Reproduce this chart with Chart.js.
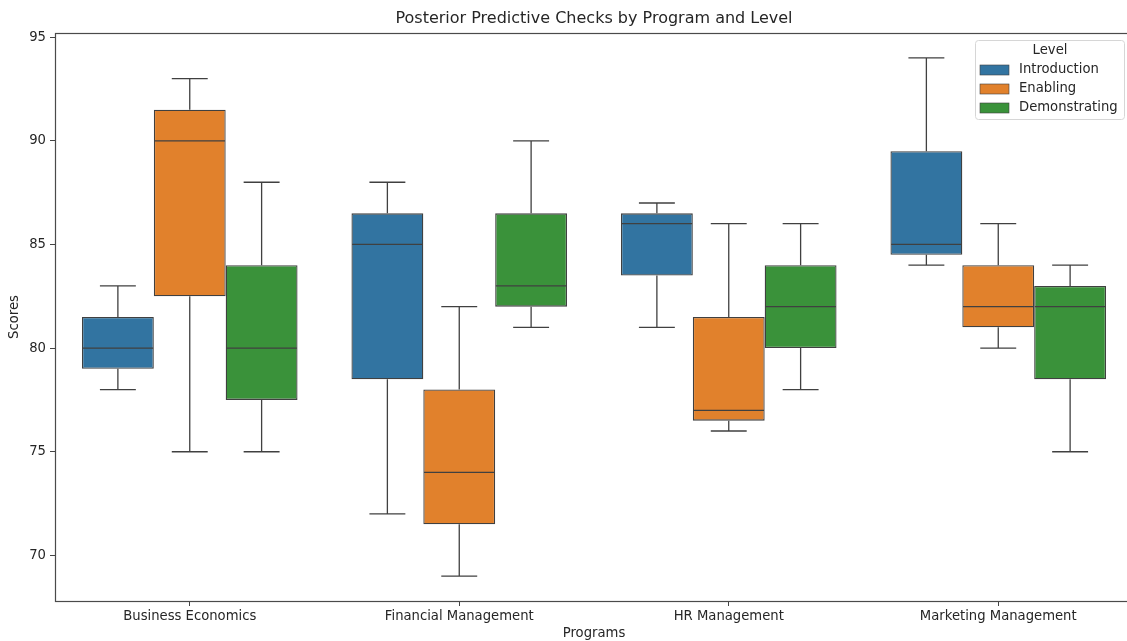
<!DOCTYPE html>
<html>
<head>
<meta charset="utf-8">
<script src="https://cdn.jsdelivr.net/npm/chart.js@4.4.1/dist/chart.umd.min.js"></script>
<style>
  html, body { margin: 0; padding: 0; overflow: hidden; background: #fff; width: 1127px; height: 641px; }
  canvas { display: block; }
</style>
</head>
<body>
<canvas id="c" width="1133" height="641"></canvas>
<script>
// Categories and hue levels
const programs = ['Business Economics', 'Financial Management', 'HR Management', 'Marketing Management'];
const levels = ['Introduction', 'Enabling', 'Demonstrating'];
const yTicks = [70, 75, 80, 85, 90, 95];

// Box statistics per level: lower whisker, Q1, median, Q3, upper whisker
const introLow    = [78, 72, 81, 84];
const introQ1     = [79, 78.5, 83.5, 84.5];
const introMedian = [80, 85, 86, 85];
const introQ3     = [81.5, 86.5, 86.5, 89.5];
const introHigh   = [83, 88, 87, 94];

const enablingLow    = [75, 69, 76, 80];
const enablingQ1     = [82.5, 71.5, 76.5, 81];
const enablingMedian = [90, 74, 77, 82];
const enablingQ3     = [91.5, 78, 81.5, 84];
const enablingHigh   = [93, 82, 86, 86];

const demoLow    = [75, 81, 78, 75];
const demoQ1     = [77.5, 82, 80, 78.5];
const demoMedian = [80, 83, 82, 82];
const demoQ3     = [84, 86.5, 84, 83];
const demoHigh   = [88, 90, 86, 84];

const fills = ['#3274a1', '#e1812c', '#3a923a'];
const edge = '#404040';
const textColor = '#262626';
const FONT = "'DejaVu Sans', sans-serif";
const LABEL_SIZE = 13.2;

function boxDataset(label, color, low, q1, med, q3, high) {
  return {
    label: label,
    data: q1.map((v, i) => [v, q3[i]]),
    whiskerLow: low,
    median: med,
    whiskerHigh: high,
    backgroundColor: color,
    borderColor: edge,
    borderWidth: 1.3,
    borderSkipped: false,
    categoryPercentage: 0.8,
    barPercentage: 1.0
  };
}

// Whiskers, caps and median lines drawn over the floating bars
const boxWhiskers = {
  id: 'boxWhiskers',
  afterDatasetsDraw(chart) {
    const ctx = chart.ctx;
    const y = chart.scales.y;
    ctx.save();
    ctx.strokeStyle = edge;
    ctx.lineWidth = 1.3;
    chart.data.datasets.forEach((ds, di) => {
      const meta = chart.getDatasetMeta(di);
      meta.data.forEach((bar, i) => {
        const cx = bar.x;
        const w = bar.width;
        const yq1 = y.getPixelForValue(ds.data[i][0]);
        const yq3 = y.getPixelForValue(ds.data[i][1]);
        const ylo = y.getPixelForValue(ds.whiskerLow[i]);
        const yhi = y.getPixelForValue(ds.whiskerHigh[i]);
        const ymed = y.getPixelForValue(ds.median[i]);
        ctx.beginPath();
        ctx.moveTo(cx, yq3); ctx.lineTo(cx, yhi);
        ctx.moveTo(cx, yq1); ctx.lineTo(cx, ylo);
        ctx.moveTo(cx - w / 4, yhi); ctx.lineTo(cx + w / 4, yhi);
        ctx.moveTo(cx - w / 4, ylo); ctx.lineTo(cx + w / 4, ylo);
        ctx.moveTo(cx - w / 2 + 0.7, ymed); ctx.lineTo(cx + w / 2 - 0.7, ymed);
        ctx.stroke();
      });
    });
    ctx.restore();
  }
};

// Axes frame, title and legend
const decorations = {
  id: 'decorations',
  afterDraw(chart) {
    const ctx = chart.ctx;
    const a = chart.chartArea;
    ctx.save();
    ctx.strokeStyle = '#4a4a4a';
    ctx.lineWidth = 1.2;
    ctx.strokeRect(a.left + 0.5, a.top + 0.5, a.right - a.left, a.bottom - a.top);

    ctx.fillStyle = textColor;
    ctx.font = '16px ' + FONT;
    ctx.textAlign = 'center';
    ctx.textBaseline = 'middle';
    ctx.fillText('Posterior Predictive Checks by Program and Level', (a.left + a.right) / 2, 18.5);

    // legend
    const lx = 975.5, ly = 40.5, lw = 149, lh = 79, r = 3;
    ctx.beginPath();
    ctx.moveTo(lx + r, ly);
    ctx.lineTo(lx + lw - r, ly); ctx.quadraticCurveTo(lx + lw, ly, lx + lw, ly + r);
    ctx.lineTo(lx + lw, ly + lh - r); ctx.quadraticCurveTo(lx + lw, ly + lh, lx + lw - r, ly + lh);
    ctx.lineTo(lx + r, ly + lh); ctx.quadraticCurveTo(lx, ly + lh, lx, ly + lh - r);
    ctx.lineTo(lx, ly + r); ctx.quadraticCurveTo(lx, ly, lx + r, ly);
    ctx.closePath();
    ctx.fillStyle = 'rgba(255,255,255,0.85)';
    ctx.fill();
    ctx.strokeStyle = '#d6d6d6';
    ctx.lineWidth = 1;
    ctx.stroke();

    ctx.font = LABEL_SIZE + 'px ' + FONT;
    ctx.fillStyle = textColor;
    ctx.textAlign = 'center';
    ctx.fillText('Level', 1050, 51);
    ctx.textAlign = 'left';
    levels.forEach((name, k) => {
      const cy = 70 + k * 19;
      ctx.fillStyle = fills[k];
      ctx.fillRect(980, cy - 5, 29, 10);
      ctx.strokeStyle = edge;
      ctx.lineWidth = 0.6;
      ctx.strokeRect(980, cy - 5, 29, 10);
      ctx.fillStyle = textColor;
      ctx.fillText(name, 1019, cy);
    });
    ctx.restore();
  }
};

new Chart(document.getElementById('c'), {
  type: 'bar',
  data: {
    labels: programs,
    datasets: [
      boxDataset(levels[0], fills[0], introLow, introQ1, introMedian, introQ3, introHigh),
      boxDataset(levels[1], fills[1], enablingLow, enablingQ1, enablingMedian, enablingQ3, enablingHigh),
      boxDataset(levels[2], fills[2], demoLow, demoQ1, demoMedian, demoQ3, demoHigh)
    ]
  },
  options: {
    responsive: false,
    animation: false,
    layout: { padding: { top: 33, right: 0, left: 0, bottom: 0 } },
    plugins: {
      legend: { display: false },
      title: { display: false },
      tooltip: { enabled: false }
    },
    scales: {
      x: {
        offset: true,
        grid: { display: true, offset: false, drawOnChartArea: false, drawTicks: true, tickLength: 5, color: '#444' },
        border: { display: false },
        ticks: { color: textColor, font: { family: FONT, size: LABEL_SIZE }, padding: 3, maxRotation: 0 },
        title: { display: true, text: 'Programs', color: textColor, font: { family: FONT, size: LABEL_SIZE }, padding: { top: 0, bottom: 0 } },
        afterFit(scale) { scale.height = 40; }
      },
      y: {
        min: 67.8,
        max: 95.2,
        grid: { display: true, drawOnChartArea: false, drawTicks: true, tickLength: 5, color: '#444' },
        border: { display: false },
        ticks: { color: textColor, font: { family: FONT, size: LABEL_SIZE }, padding: 4 },
        afterBuildTicks(scale) { scale.ticks = yTicks.map(v => ({ value: v })); },
        title: { display: true, text: 'Scores', color: textColor, font: { family: FONT, size: LABEL_SIZE }, padding: { top: 7, bottom: 0 } },
        afterFit(scale) { scale.width = 55; }
      }
    }
  },
  plugins: [boxWhiskers, decorations]
});
</script>
</body>
</html>
